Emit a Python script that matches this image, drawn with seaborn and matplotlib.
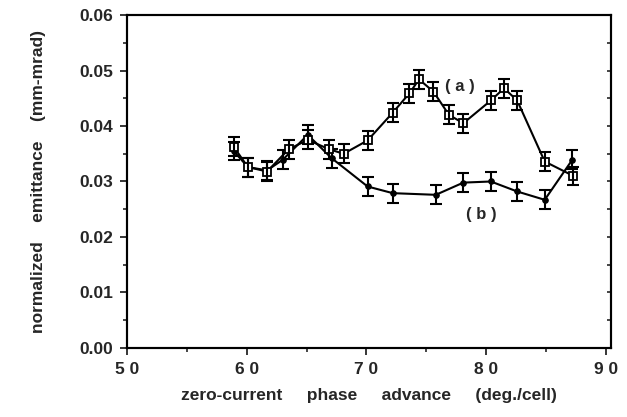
import matplotlib
matplotlib.use("Agg")
import matplotlib.pyplot as plt
import seaborn as sns
import pandas as pd
from matplotlib.ticker import MultipleLocator, FixedLocator

sns.set_theme(style="ticks")
plt.rcParams['font.family'] = ['Liberation Sans', 'DejaVu Sans']

x_a = [58.9, 60.1, 61.7, 63.5, 65.1, 66.9, 68.1, 70.1, 72.2, 73.6, 74.4, 75.6, 76.9, 78.1, 80.4, 81.5, 82.6, 84.9, 87.3]
y_a = [0.0363, 0.0326, 0.0318, 0.0358, 0.0375, 0.0358, 0.0350, 0.0374, 0.0424, 0.0459, 0.0484, 0.0462, 0.0420, 0.0405, 0.0446, 0.0468, 0.0446, 0.0336, 0.0310]
x_b = [58.9, 60.1, 61.7, 63.0, 65.1, 67.1, 70.1, 72.2, 75.8, 78.1, 80.4, 82.6, 84.9, 87.2]
y_b = [0.0355, 0.0326, 0.0320, 0.0339, 0.0384, 0.0342, 0.0291, 0.0279, 0.0276, 0.0298, 0.0300, 0.0282, 0.0267, 0.0339]
err = 0.0017

xticks = [50, 60, 70, 80, 90]
xticklabels = ["5 0", "6 0", "7 0", "8 0", "9 0"]
yticks = [0.00, 0.01, 0.02, 0.03, 0.04, 0.05, 0.06]
yticklabels = ["0.00", "0.01", "0.02", "0.03", "0.04", "0.05", "0.06"]

df_a = pd.DataFrame({"x": x_a, "y": y_a})
df_b = pd.DataFrame({"x": x_b, "y": y_b})

fig = plt.figure(figsize=(6.27, 4.17), dpi=100)
ax = fig.add_axes([0.2026, 0.1655, 0.7719, 0.7985])

sns.lineplot(data=df_b, x="x", y="y", ax=ax, color="black", lw=1.5,
             marker="o", markersize=4, markerfacecolor="black", markeredgecolor="black")
ax.errorbar(x_b, y_b, yerr=err, fmt="none", ecolor="black", elinewidth=1.5, capsize=4.5, capthick=1.5)
sns.lineplot(data=df_a, x="x", y="y", ax=ax, color="black", lw=1.5,
             marker="s", markersize=6, markerfacecolor="white", markeredgecolor="black", markeredgewidth=1.3)
ax.errorbar(x_a, y_a, yerr=err, fmt="none", ecolor="black", elinewidth=1.5, capsize=4.5, capthick=1.5)

ax.text(77.8, 0.0471, "( a )", fontsize=12, fontweight="bold", ha="center", va="center")
ax.text(79.6, 0.0240, "( b )", fontsize=12, fontweight="bold", ha="center", va="center")

ax.set_xlim(50, 90.44)
ax.set_ylim(0, 0.06)
ax.xaxis.set_major_locator(FixedLocator(xticks))
ax.set_xticklabels(xticklabels)
ax.yaxis.set_major_locator(FixedLocator(yticks))
ax.set_yticklabels(yticklabels)
ax.xaxis.set_minor_locator(MultipleLocator(5))
ax.yaxis.set_minor_locator(MultipleLocator(0.005))
ax.tick_params(axis="both", which="major", direction="out", length=5, width=1.3, labelsize=12.5, pad=5)
ax.tick_params(axis="both", which="minor", direction="out", length=3, width=1.2)
for lab in ax.get_xticklabels() + ax.get_yticklabels():
    lab.set_fontweight("bold")

axr = ax.twinx()
axr.set_ylim(0, 0.06)
axr.yaxis.set_major_locator(FixedLocator(yticks))
axr.yaxis.set_minor_locator(MultipleLocator(0.005))
axr.tick_params(axis="y", which="both", direction="in", length=3, width=1.2, labelright=False)
axr.grid(False)

for a in (ax, axr):
    for s in a.spines.values():
        s.set_linewidth(1.5)
        s.set_color("black")

ax.set_xlabel("zero-current     phase     advance     (deg./cell)", fontsize=12.5, fontweight="bold", labelpad=8)
ax.set_ylabel("normalized    emittance    (mm-mrad)", fontsize=12.5, fontweight="bold", labelpad=24)
ax.grid(False)

fig.savefig("out.png", dpi=100)
